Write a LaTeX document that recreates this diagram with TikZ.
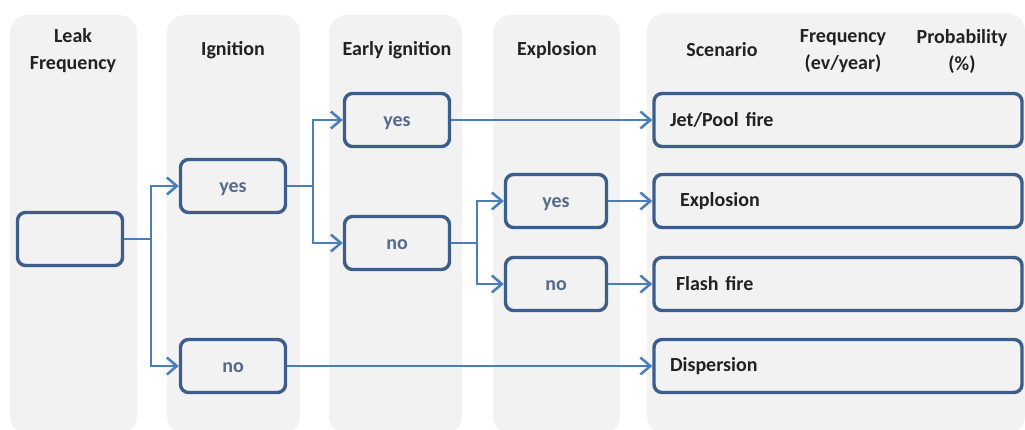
\documentclass[tikz,border=0pt]{standalone}
\usepackage{fontspec}
\setmainfont{Carlito}
\usepackage{tikz}
\usetikzlibrary{arrows,arrows.meta}
\definecolor{colgray}{HTML}{F2F2F2}
\definecolor{boxblue}{HTML}{3D5E8A}
\definecolor{arrblue}{HTML}{4A7EBB}
\definecolor{yesno}{HTML}{546A8A}
\definecolor{hdtext}{HTML}{222222}
\tikzstyle{column}=[fill=colgray, rounded corners=18pt]
\tikzstyle{head}=[text=hdtext, font=\bfseries\fontsize{20}{27}\selectfont, align=center]
\tikzstyle{box}=[rectangle, rounded corners=8pt, line width=3.4pt, draw=boxblue, fill=colgray, font=\bfseries\fontsize{20}{24}\selectfont]
\tikzstyle{choice}=[box, minimum width=105pt, minimum height=53pt, text height=12pt, text depth=0pt, text=yesno]
\tikzstyle{scen}=[box, minimum width=368pt, minimum height=53pt, text width=336pt, align=left, text=hdtext]
\tikzstyle{arr}=[-{Straight Barb[length=10pt,width=17pt]}, line width=2.5pt, draw=arrblue]

\begin{document}
\begin{tikzpicture}[x=1pt, y=-1pt]
\useasboundingbox (0,0) rectangle (1025,429);
% columns
\fill[column] (10,15) rectangle (137,434);
\fill[column] (167,15) rectangle (300,434);
\fill[column] (329,15) rectangle (462,434);
\fill[column] (493,15) rectangle (620,434);
\fill[column] (647,13) rectangle (1025,434);
% headers
\node[head] (hleak) at (73,51) {Leak\\Frequency};
\node[head] (hign) at (233,50) {Ignition};
\node[head] (hearly) at (397,50) {Early ignition};
\node[head] (hexpl) at (557,50) {Explosion};
\node[head] (hscen) at (722,50) {Scenario};
\node[head] (hfreq) at (843,51) {Frequency\\(ev/year)};
\node[head] (hprob) at (962,51) {Probability\\(\%)};
% event tree
\node[choice] (leak) at (70,239) {};
\node[choice] (igy) at (233,186) {yes};
\node[choice] (ign) at (233,366) {no};
\node[choice] (eay) at (397,120) {yes};
\node[choice] (ean) at (397,243) {no};
\node[choice, minimum width=101pt] (exy) at (556,201) {yes};
\node[choice, minimum width=101pt] (exn) at (556,284) {no};
\node[scen] (jet) at (838,120) {Jet/Pool fire};
\node[scen] (expl) at (838,201) {\hspace{10pt}Explosion};
\node[scen] (flash) at (838,284) {\hspace{6pt}Flash fire};
\node[scen] (disp) at (838,366) {Dispersion};
% connectors
\draw[arr] (leak.east) -- ++(27,0) |- (igy);
\draw[arr] (leak.east) -- ++(27,0) |- (ign);
\draw[arr] (igy.east) -- ++(26,0) |- (eay);
\draw[arr] (igy.east) -- ++(26,0) |- (ean);
\draw[arr] (ean.east) -- ++(26,0) |- (exy);
\draw[arr] (ean.east) -- ++(26,0) |- (exn);
\draw[arr] (eay) -- (jet);
\draw[arr] (exy) -- (expl);
\draw[arr] (exn) -- (flash);
\draw[arr] (ign) -- (disp);
\end{tikzpicture}
\end{document}
